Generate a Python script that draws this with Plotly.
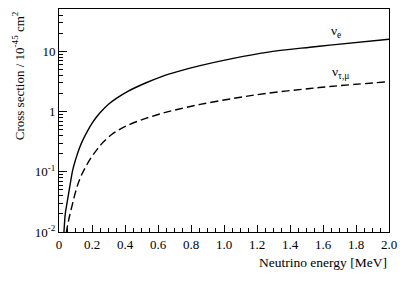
import plotly.graph_objects as go

energy_e = [0.02, 0.03, 0.038, 0.05, 0.065, 0.083, 0.1, 0.123, 0.145, 0.175, 0.2, 0.225, 0.25, 0.3, 0.35,
            0.42, 0.521, 0.622, 0.723, 0.855, 1.056, 1.259, 1.521, 1.642, 2.0]
sigma_e = [0.004, 0.01, 0.02, 0.032, 0.056, 0.107, 0.158, 0.245, 0.34, 0.49, 0.64, 0.8, 0.97, 1.33, 1.68,
           2.2, 2.97, 3.84, 4.68, 5.82, 7.69, 9.7, 11.8, 12.8, 16.0]

energy_mu = [0.035, 0.045, 0.055, 0.065, 0.08, 0.095, 0.115, 0.135, 0.165, 0.196, 0.23, 0.267, 0.319, 0.37,
             0.42, 0.521, 0.622, 0.723, 0.855, 1.056, 1.259, 1.521, 1.642, 2.0]
sigma_mu = [0.006, 0.01, 0.0141, 0.019, 0.028, 0.041, 0.063, 0.087, 0.126, 0.174, 0.234, 0.31, 0.417, 0.513,
            0.60, 0.766, 0.933, 1.10, 1.32, 1.66, 2.02, 2.43, 2.62, 3.16]

x_ticks = [0, 0.2, 0.4, 0.6, 0.8, 1.0, 1.2, 1.4, 1.6, 1.8, 2.0]
x_ticklabels = ["0", "0.2", "0.4", "0.6", "0.8", "1.0", "1.2", "1.4", "1.6", "1.8", "2.0"]
y_ticks = [0.01, 0.1, 1, 10]
y_ticklabels = ["10<sup>-2</sup>", "10<sup>-1</sup>", "1", "10"]

FONT = "Liberation Serif, Times New Roman, DejaVu Serif, serif"

fig = go.Figure()
fig.add_trace(go.Scatter(x=energy_e, y=sigma_e, mode="lines",
                         line=dict(color="black", width=1.4, shape="spline", smoothing=1.0),
                         showlegend=False))
fig.add_trace(go.Scatter(x=energy_mu, y=sigma_mu, mode="lines",
                         line=dict(color="black", width=1.4, shape="spline", smoothing=1.0, dash="8px,4px"),
                         showlegend=False))

fig.add_annotation(x=1.68, y=1.33, xref="x", yref="y", text="ν<sub>e</sub>",
                   showarrow=False, font=dict(family=FONT, size=13.5, color="black"))
fig.add_annotation(x=1.705, y=0.655, xref="x", yref="y", text="ν<sub>τ,μ</sub>",
                   showarrow=False, font=dict(family=FONT, size=13.5, color="black"))

fig.add_annotation(x=1.0, y=-0.135, xref="paper", yref="paper", xanchor="right", yanchor="middle",
                   text="Neutrino energy [MeV]", showarrow=False,
                   font=dict(family=FONT, size=13.5, color="black"))
fig.add_annotation(x=-0.125, y=1.0, xref="paper", yref="paper", xanchor="center", yanchor="top",
                   text="Cross section / 10<sup>-45</sup> cm<sup>2</sup>", textangle=-90, showarrow=False,
                   font=dict(family=FONT, size=13, color="black"))

fig.update_xaxes(range=[0, 2.0], tickvals=x_ticks, ticktext=x_ticklabels,
                 ticks="inside", ticklen=7, tickwidth=1, tickcolor="black",
                 minor=dict(dtick=0.05, ticks="inside", ticklen=4, tickcolor="black", tick0=0),
                 showline=True, linecolor="black", linewidth=1, mirror=True,
                 showgrid=False, zeroline=False,
                 tickfont=dict(family=FONT, size=13, color="black"))
fig.update_yaxes(type="log", range=[-2, 1.707], tickvals=y_ticks, ticktext=y_ticklabels,
                 ticks="inside", ticklen=8, tickwidth=1, tickcolor="black",
                 minor=dict(ticks="inside", ticklen=4, tickcolor="black", dtick="D1", showgrid=False),
                 showline=True, linecolor="black", linewidth=1, mirror=True,
                 showgrid=False, zeroline=False,
                 tickfont=dict(family=FONT, size=13, color="black"))

fig.update_layout(width=415, height=286, margin=dict(l=59, r=26, t=9, b=54),
                  paper_bgcolor="white", plot_bgcolor="white",
                  font=dict(family=FONT, size=13, color="black"))

fig.write_html("out.html", config={"displayModeBar": False},
               post_script="document.body.style.margin='0px';document.body.style.overflow='hidden';")
